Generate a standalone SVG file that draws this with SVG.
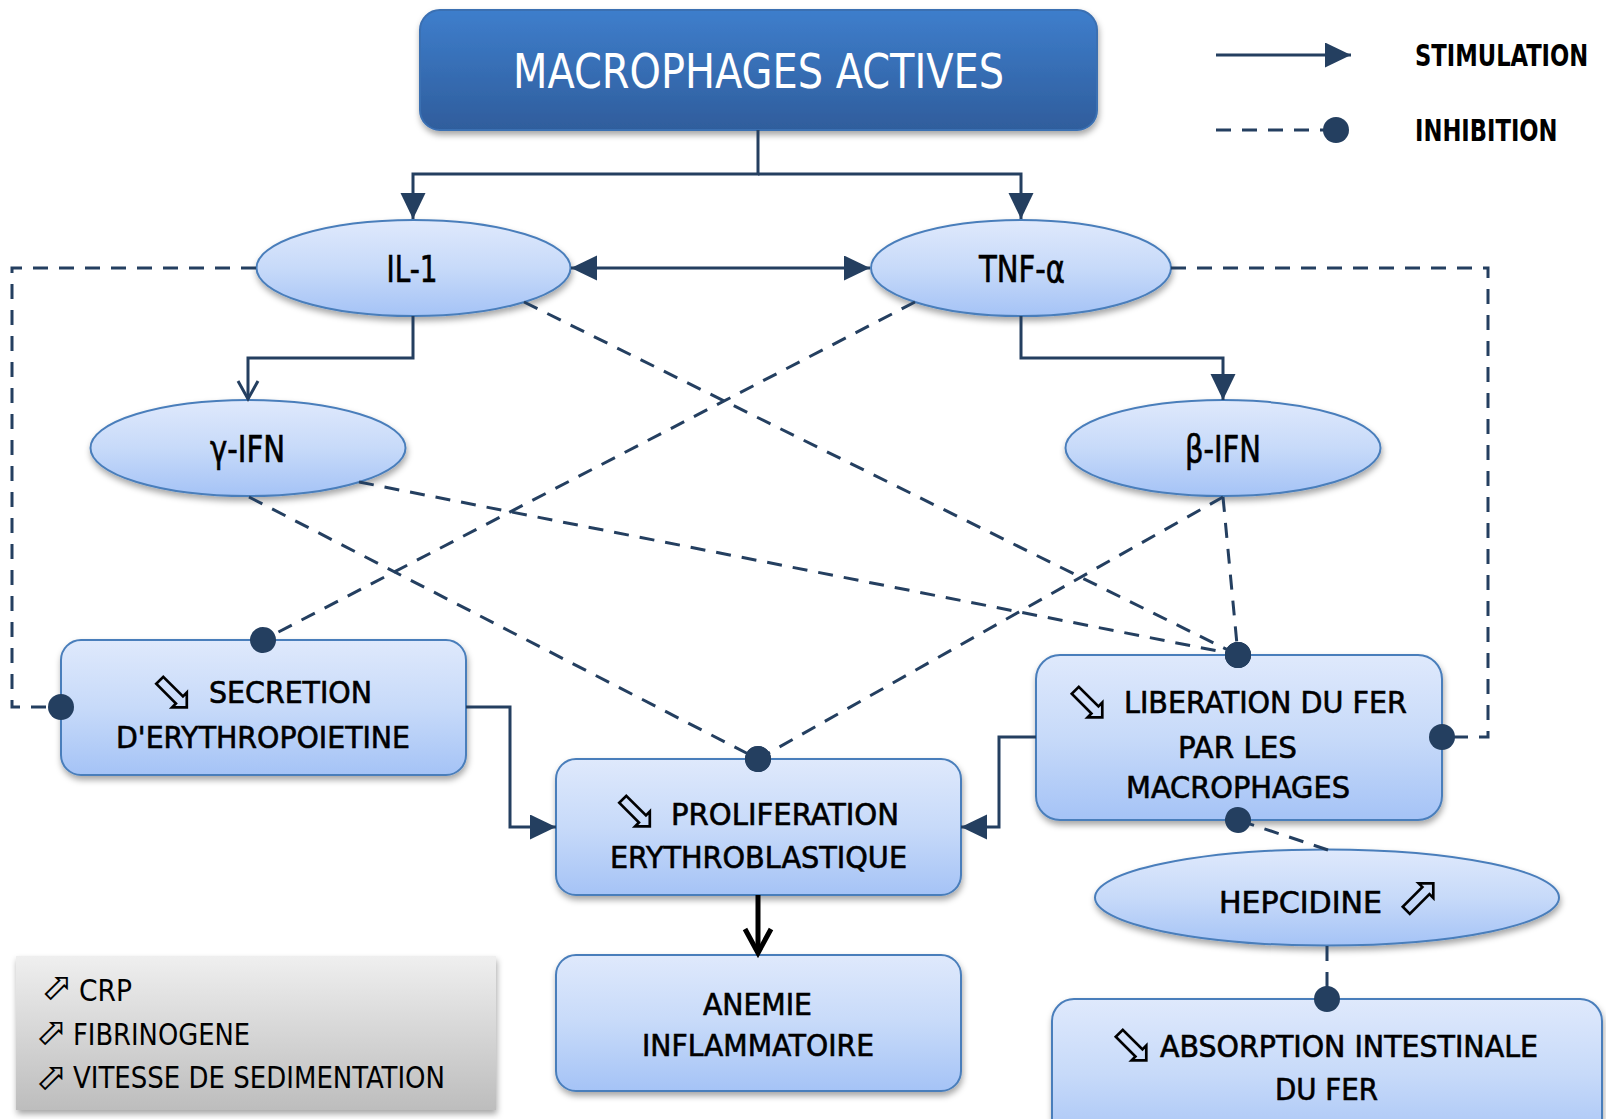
<svg xmlns="http://www.w3.org/2000/svg" width="1606" height="1119" viewBox="0 0 1606 1119">
  <defs>
    <linearGradient id="nodeFill" x1="0" y1="0" x2="0" y2="1">
      <stop offset="0" stop-color="#dfe9fc"/>
      <stop offset="0.5" stop-color="#c7daf9"/>
      <stop offset="1" stop-color="#a5c3f6"/>
    </linearGradient>
    <linearGradient id="titleFill" x1="0" y1="0" x2="0" y2="1">
      <stop offset="0" stop-color="#3e7ecc"/>
      <stop offset="1" stop-color="#2f5d9c"/>
    </linearGradient>
    <linearGradient id="noteFill" x1="0" y1="0" x2="0" y2="1">
      <stop offset="0" stop-color="#efefef"/>
      <stop offset="1" stop-color="#bdbdbd"/>
    </linearGradient>
    <filter id="shadow" x="-10%" y="-10%" width="120%" height="130%">
      <feDropShadow dx="1" dy="4" stdDeviation="3" flood-color="#000" flood-opacity="0.35"/>
    </filter>
    <marker id="stim" markerUnits="userSpaceOnUse" markerWidth="27" markerHeight="26" refX="26" refY="12.5" orient="auto-start-reverse">
      <path d="M0,0 L26,12.5 L0,25 z" fill="#243f60"/>
    </marker>
    <marker id="open" markerUnits="userSpaceOnUse" markerWidth="24" markerHeight="26" refX="20" refY="12" orient="auto">
      <path d="M2,2 L20,12 L2,22" fill="none" stroke="#243f60" stroke-width="3"/>
    </marker>
    <marker id="bigOpen" markerUnits="userSpaceOnUse" markerWidth="32" markerHeight="34" refX="27" refY="16" orient="auto">
      <path d="M3,3 L27,16 L3,29" fill="none" stroke="#000" stroke-width="5"/>
    </marker>
    <marker id="inh" markerUnits="userSpaceOnUse" markerWidth="28" markerHeight="28" refX="14" refY="14" orient="auto">
      <circle cx="14" cy="14" r="13" fill="#243f60"/>
    </marker>
  </defs>
  <style>
    .box { fill: url(#nodeFill); stroke: #4a7ebb; stroke-width: 2; filter: url(#shadow); }
    .t { font-family: "Liberation Sans Narrow", "DejaVu Sans Condensed", "Liberation Sans", sans-serif; font-size: 31px; fill: #000; }
    .n { stroke: #000; stroke-width: 0.6; }
    .big { font-size: 37px; }
    .sym { font-family: "DejaVu Sans", sans-serif; font-size: 55px; fill: #000; text-anchor: middle; }
    .symS { font-size: 38px; }
    .key { font-family: "DejaVu Sans Condensed", "Liberation Sans", sans-serif; font-size: 30px; font-weight: bold; fill: #000; }
    .solid { fill: none; stroke: #243f60; stroke-width: 3; }
    .dash { fill: none; stroke: #243f60; stroke-width: 3; stroke-dasharray: 15 11; }
  </style>
  <rect width="1606" height="1119" fill="#fff"/>

  <!-- nodes -->
  <g id="macrophages">
    <rect x="420" y="10" width="677" height="120" rx="20" fill="url(#titleFill)" stroke="#3a6fb2" stroke-width="2" filter="url(#shadow)"/>
    <text class="t" x="513" y="88" style="fill:#fff;font-size:48px" textLength="491" lengthAdjust="spacingAndGlyphs">MACROPHAGES ACTIVES</text>
  </g>

  <g id="il1">
    <ellipse class="box" cx="413.5" cy="268" rx="157" ry="48"/>
    <text class="t n big" x="386.5" y="282" textLength="51" lengthAdjust="spacingAndGlyphs">IL-1</text>
  </g>

  <g id="tnf">
    <ellipse class="box" cx="1021" cy="268" rx="150" ry="48"/>
    <text class="t n big" x="979" y="282" textLength="86" lengthAdjust="spacingAndGlyphs">TNF-α</text>
  </g>

  <g id="gamma-ifn">
    <ellipse class="box" cx="248" cy="448" rx="157.5" ry="48"/>
    <text class="t n big" x="210" y="462" textLength="75" lengthAdjust="spacingAndGlyphs">γ-IFN</text>
  </g>

  <g id="beta-ifn">
    <ellipse class="box" cx="1223" cy="448" rx="157.5" ry="48"/>
    <text class="t n big" x="1185" y="462" textLength="76" lengthAdjust="spacingAndGlyphs">β-IFN</text>
  </g>

  <g id="secretion">
    <rect class="box" x="61" y="640" width="405" height="135" rx="20"/>
    <text class="sym" x="172.5" y="709.5">⬂</text>
    <text class="t n" x="209" y="703" textLength="163" lengthAdjust="spacingAndGlyphs">SECRETION</text>
    <text class="t n" x="116" y="748" textLength="294" lengthAdjust="spacingAndGlyphs">D'ERYTHROPOIETINE</text>
  </g>

  <g id="proliferation">
    <rect class="box" x="556" y="759" width="405" height="136" rx="20"/>
    <text class="sym" x="635.5" y="828.5">⬂</text>
    <text class="t n" x="671" y="825" textLength="228" lengthAdjust="spacingAndGlyphs">PROLIFERATION</text>
    <text class="t n" x="610" y="868" textLength="297" lengthAdjust="spacingAndGlyphs">ERYTHROBLASTIQUE</text>
  </g>

  <g id="liberation">
    <rect class="box" x="1036" y="655" width="406" height="165" rx="24"/>
    <text class="sym" x="1088" y="719.5">⬂</text>
    <text class="t n" x="1124" y="713" textLength="283" lengthAdjust="spacingAndGlyphs">LIBERATION DU FER</text>
    <text class="t n" x="1178" y="758" textLength="119" lengthAdjust="spacingAndGlyphs">PAR LES</text>
    <text class="t n" x="1126" y="798" textLength="224" lengthAdjust="spacingAndGlyphs">MACROPHAGES</text>
  </g>

  <g id="hepcidine">
    <ellipse class="box" cx="1327" cy="897.5" rx="232" ry="48"/>
    <text class="t n" x="1219" y="913" textLength="163" lengthAdjust="spacingAndGlyphs">HEPCIDINE</text>
    <text class="sym" x="1419" y="913.5">⬀</text>
  </g>

  <g id="anemie">
    <rect class="box" x="556" y="955" width="405" height="136" rx="20"/>
    <text class="t n" x="703" y="1015" textLength="109" lengthAdjust="spacingAndGlyphs">ANEMIE</text>
    <text class="t n" x="642" y="1056" textLength="232" lengthAdjust="spacingAndGlyphs">INFLAMMATOIRE</text>
  </g>

  <g id="absorption">
    <rect class="box" x="1052" y="999" width="550" height="150" rx="22"/>
    <text class="sym" x="1132" y="1062.5">⬂</text>
    <text class="t n" x="1160" y="1057" textLength="378" lengthAdjust="spacingAndGlyphs">ABSORPTION INTESTINALE</text>
    <text class="t n" x="1275" y="1100" textLength="103" lengthAdjust="spacingAndGlyphs">DU FER</text>
  </g>

  <g id="markers-note">
    <rect x="16" y="956" width="480" height="154" fill="url(#noteFill)" filter="url(#shadow)"/>
    <text class="sym symS" x="57" y="998.5">⬀</text>
    <text class="t" x="79" y="1001" textLength="53" lengthAdjust="spacingAndGlyphs">CRP</text>
    <text class="sym symS" x="51.5" y="1043.5">⬀</text>
    <text class="t" x="73" y="1045" textLength="177" lengthAdjust="spacingAndGlyphs">FIBRINOGENE</text>
    <text class="sym symS" x="51.5" y="1088.5">⬀</text>
    <text class="t" x="73" y="1088" textLength="372" lengthAdjust="spacingAndGlyphs">VITESSE DE SEDIMENTATION</text>
  </g>

  <g id="key">
    <path class="solid" d="M1216,55 H1351" marker-end="url(#stim)"/>
    <text class="key" transform="translate(1415,66) scale(0.84,1)">STIMULATION</text>
    <path class="dash" d="M1216,130 H1336" marker-end="url(#inh)"/>
    <text class="key" transform="translate(1415,141) scale(0.84,1)">INHIBITION</text>
  </g>

  <!-- connectors -->
  <g id="connectors">
    <path class="solid" d="M758,130 V174 H413 V219" marker-end="url(#stim)"/>
    <path class="solid" d="M758,174 H1021 V219" marker-end="url(#stim)"/>
    <path class="solid" d="M571,268 H870" marker-start="url(#stim)" marker-end="url(#stim)"/>
    <path class="solid" d="M413,316 V358 H248 V399" marker-end="url(#open)"/>
    <path class="solid" d="M1021,316 V358 H1223 V400" marker-end="url(#stim)"/>
    <path class="solid" d="M466,707 H510 V827 H556" marker-end="url(#stim)"/>
    <path class="solid" d="M1036,737 H999 V827 H961" marker-end="url(#stim)"/>
    <path d="M758,895 V953" fill="none" stroke="#000" stroke-width="5" marker-end="url(#bigOpen)"/>

    <path class="dash" d="M256,268 H12 V707 H61" marker-end="url(#inh)"/>
    <path class="dash" d="M1171,268 H1488 V737 H1442" marker-end="url(#inh)"/>
    <path class="dash" d="M524,302 L1238,655" marker-end="url(#inh)"/>
    <path class="dash" d="M915,302 L263,640" marker-end="url(#inh)"/>
    <path class="dash" d="M359,482 L1238,655" marker-end="url(#inh)"/>
    <path class="dash" d="M249,497 L758,759" marker-end="url(#inh)"/>
    <path class="dash" d="M1223,497 L758,759" marker-end="url(#inh)"/>
    <path class="dash" d="M1223,497 L1238,655" marker-end="url(#inh)"/>
    <path class="dash" d="M1328,850 L1238,820" marker-end="url(#inh)"/>
    <path class="dash" d="M1327,946 V999" marker-end="url(#inh)"/>
  </g>
</svg>
